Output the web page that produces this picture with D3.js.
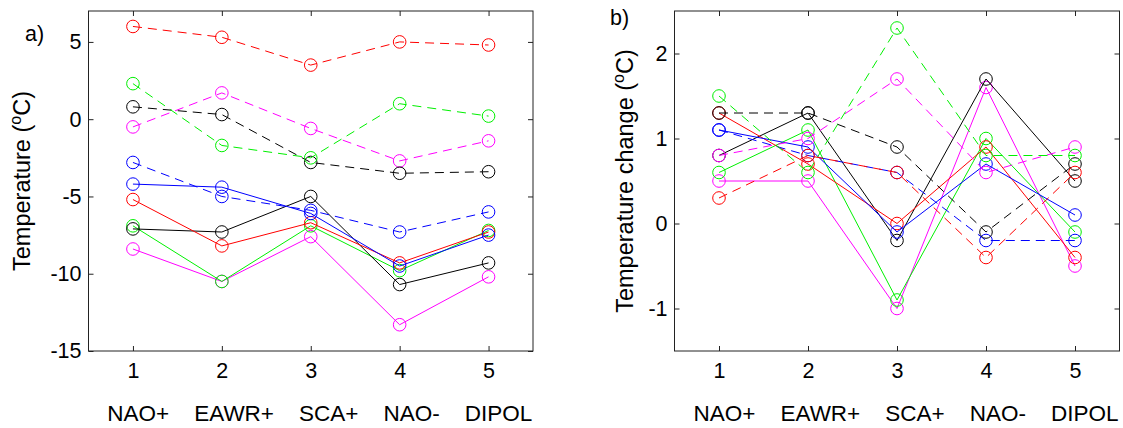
<!DOCTYPE html>
<html>
<head>
<meta charset="utf-8">
<script src="https://cdn.jsdelivr.net/npm/d3@7"></script>
<style>
  html, body { margin: 0; padding: 0; background: #fff; }
  svg { display: block; }
  text { font-family: "Liberation Sans", Arial, sans-serif; fill: #000; }
</style>
</head>
<body>
<svg id="chart" width="1123" height="428"></svg>
<script>
// ---------- data ----------
const categories = ["NAO+", "EAWR+", "SCA+", "NAO-", "DIPOL"];
const positions = [1, 2, 3, 4, 5];
const tempTicks = [-15, -10, -5, 0, 5];
const changeTicks = [-1, 0, 1, 2];

// Panel a) temperature (°C)
const tempRedDashed     = [6.0, 5.3, 3.5, 5.0, 4.8];
const tempGreenDashed   = [2.3, -1.7, -2.5, 1.0, 0.2];
const tempBlackDashed   = [0.8, 0.3, -2.8, -3.5, -3.4];
const tempMagentaDashed = [-0.5, 1.7, -0.6, -2.7, -1.4];
const tempBlueDashed    = [-2.8, -5.0, -5.9, -7.3, -6.0];
const tempBlueSolid     = [-4.2, -4.4, -6.1, -9.5, -7.5];
const tempRedSolid      = [-5.2, -8.2, -6.7, -9.3, -7.3];
const tempBlackSolid    = [-7.1, -7.3, -5.0, -10.7, -9.3];
const tempGreenSolid    = [-6.9, -10.5, -6.9, -9.8, -7.2];
const tempMagentaSolid  = [-8.4, -10.5, -7.6, -13.3, -10.2];

// Panel b) temperature change (°C)
const chgRedDashed     = [0.3, 0.8, 0.6, -0.4, 0.6];
const chgGreenDashed   = [1.5, 0.6, 2.3, 0.8, 0.8];
const chgBlackDashed   = [1.3, 1.3, 0.9, -0.1, 0.7];
const chgMagentaDashed = [0.8, 1.0, 1.7, 0.6, 0.9];
const chgBlueDashed    = [1.1, 0.8, 0.6, -0.2, -0.2];
const chgBlueSolid     = [1.1, 0.9, -0.1, 0.7, 0.1];
const chgRedSolid      = [1.3, 0.7, 0.0, 0.9, -0.4];
const chgBlackSolid    = [0.8, 1.3, -0.2, 1.7, 0.5];
const chgGreenSolid    = [0.6, 1.1, -0.9, 1.0, -0.1];
const chgMagentaSolid  = [0.5, 0.5, -1.0, 1.6, -0.5];

// ---------- styling ----------
const COL = { red: "#ff0000", green: "#00f000", blue: "#0000ff", black: "#000000", magenta: "#ff00ff" };
const DASH = "9,6";

const panelA = {
  left: 88.5, right: 533, top: 11, bottom: 351,
  yDomain: [-15, 7], yTicks: tempTicks,
  label: "a)", labelX: 25, labelY: 41,
  ylabel: "Temperature ", ylabelX: 30,
  series: [
    { v: tempMagentaSolid, c: COL.magenta, d: null },
    { v: tempGreenSolid, c: COL.green, d: null },
    { v: tempBlackSolid, c: COL.black, d: null },
    { v: tempRedSolid, c: COL.red, d: null },
    { v: tempBlueSolid, c: COL.blue, d: null },
    { v: tempBlueDashed, c: COL.blue, d: DASH },
    { v: tempMagentaDashed, c: COL.magenta, d: DASH },
    { v: tempBlackDashed, c: COL.black, d: DASH },
    { v: tempGreenDashed, c: COL.green, d: DASH },
    { v: tempRedDashed, c: COL.red, d: DASH }
  ]
};
const panelB = {
  left: 674.5, right: 1119.5, top: 11, bottom: 351,
  yDomain: [-1.5, 2.5], yTicks: changeTicks,
  label: "b)", labelX: 610, labelY: 25,
  ylabel: "Temperature change ", ylabelX: 633,
  series: [
    { v: chgMagentaSolid, c: COL.magenta, d: null },
    { v: chgGreenSolid, c: COL.green, d: null },
    { v: chgBlackSolid, c: COL.black, d: null },
    { v: chgRedSolid, c: COL.red, d: null },
    { v: chgBlueSolid, c: COL.blue, d: null },
    { v: chgBlueDashed, c: COL.blue, d: DASH },
    { v: chgMagentaDashed, c: COL.magenta, d: DASH },
    { v: chgBlackDashed, c: COL.black, d: DASH },
    { v: chgGreenDashed, c: COL.green, d: DASH },
    { v: chgRedDashed, c: COL.red, d: DASH }
  ]
};

const svg = d3.select("#chart");
svg.append("rect").attr("width", 1123).attr("height", 428).attr("fill", "#fff");

function drawPanel(p) {
  const g = svg.append("g");
  const x = d3.scaleLinear().domain([0.5, 5.5]).range([p.left, p.right]);
  const y = d3.scaleLinear().domain(p.yDomain).range([p.bottom, p.top]);
  const axisColor = "#222";
  const fmt = d => String(d);

  // axes
  const ax = [
    g.append("g").attr("transform", `translate(0,${p.bottom})`)
      .call(d3.axisBottom(x).tickValues(positions).tickSize(-5).tickPadding(12).tickFormat(fmt)),
    g.append("g").attr("transform", `translate(0,${p.top})`)
      .call(d3.axisTop(x).tickValues(positions).tickSize(-5).tickFormat(() => "")),
    g.append("g").attr("transform", `translate(${p.left},0)`)
      .call(d3.axisLeft(y).tickValues(p.yTicks).tickSize(-5).tickPadding(7).tickFormat(fmt)),
    g.append("g").attr("transform", `translate(${p.right},0)`)
      .call(d3.axisRight(y).tickValues(p.yTicks).tickSize(-5).tickFormat(() => ""))
  ];
  ax.forEach(a => {
    a.select(".domain").remove();
    a.selectAll(".tick line").attr("stroke", axisColor).attr("stroke-width", 1);
    a.selectAll(".tick text").attr("fill", "#000")
      .style("font-family", '"Liberation Sans", Arial, sans-serif').style("font-size", "21.5px");
  });
  g.append("rect")
    .attr("x", p.left).attr("y", p.top)
    .attr("width", p.right - p.left).attr("height", p.bottom - p.top)
    .attr("fill", "none").attr("stroke", axisColor).attr("stroke-width", 1);

  // series
  const line = d3.line().x((d, i) => x(positions[i])).y(d => y(d));
  p.series.forEach(s => {
    g.append("path").datum(s.v)
      .attr("d", line)
      .attr("fill", "none")
      .attr("stroke", s.c)
      .attr("stroke-width", 1)
      .attr("stroke-dasharray", s.d);
    g.selectAll(null).data(s.v).enter().append("circle")
      .attr("cx", (d, i) => x(positions[i]))
      .attr("cy", d => y(d))
      .attr("r", 6.3)
      .attr("fill", "none")
      .attr("stroke", s.c)
      .attr("stroke-width", 1);
  });

  // category labels line (single xlabel string)
  g.append("text")
    .attr("x", (p.left + p.right) / 2 + 9)
    .attr("y", 421)
    .attr("text-anchor", "middle")
    .attr("xml:space", "preserve")
    .style("white-space", "pre")
    .style("font-size", "22.5px")
    .text(categories.join("    "));

  // panel label
  g.append("text")
    .attr("x", p.labelX).attr("y", p.labelY)
    .style("font-size", "21.5px")
    .text(p.label);

  // y label with superscript
  const cy = (p.top + p.bottom) / 2;
  const yl = g.append("text")
    .attr("transform", `translate(${p.ylabelX},${cy}) rotate(-90)`)
    .attr("text-anchor", "middle")
    .attr("xml:space", "preserve")
    .style("white-space", "pre")
    .style("font-size", "23.5px");
  yl.append("tspan").text(p.ylabel + "(");
  yl.append("tspan").attr("dy", -9).style("font-size", "16px").text("o");
  yl.append("tspan").attr("dy", 9).text("C)");
}

drawPanel(panelA);
drawPanel(panelB);
</script>
</body>
</html>
